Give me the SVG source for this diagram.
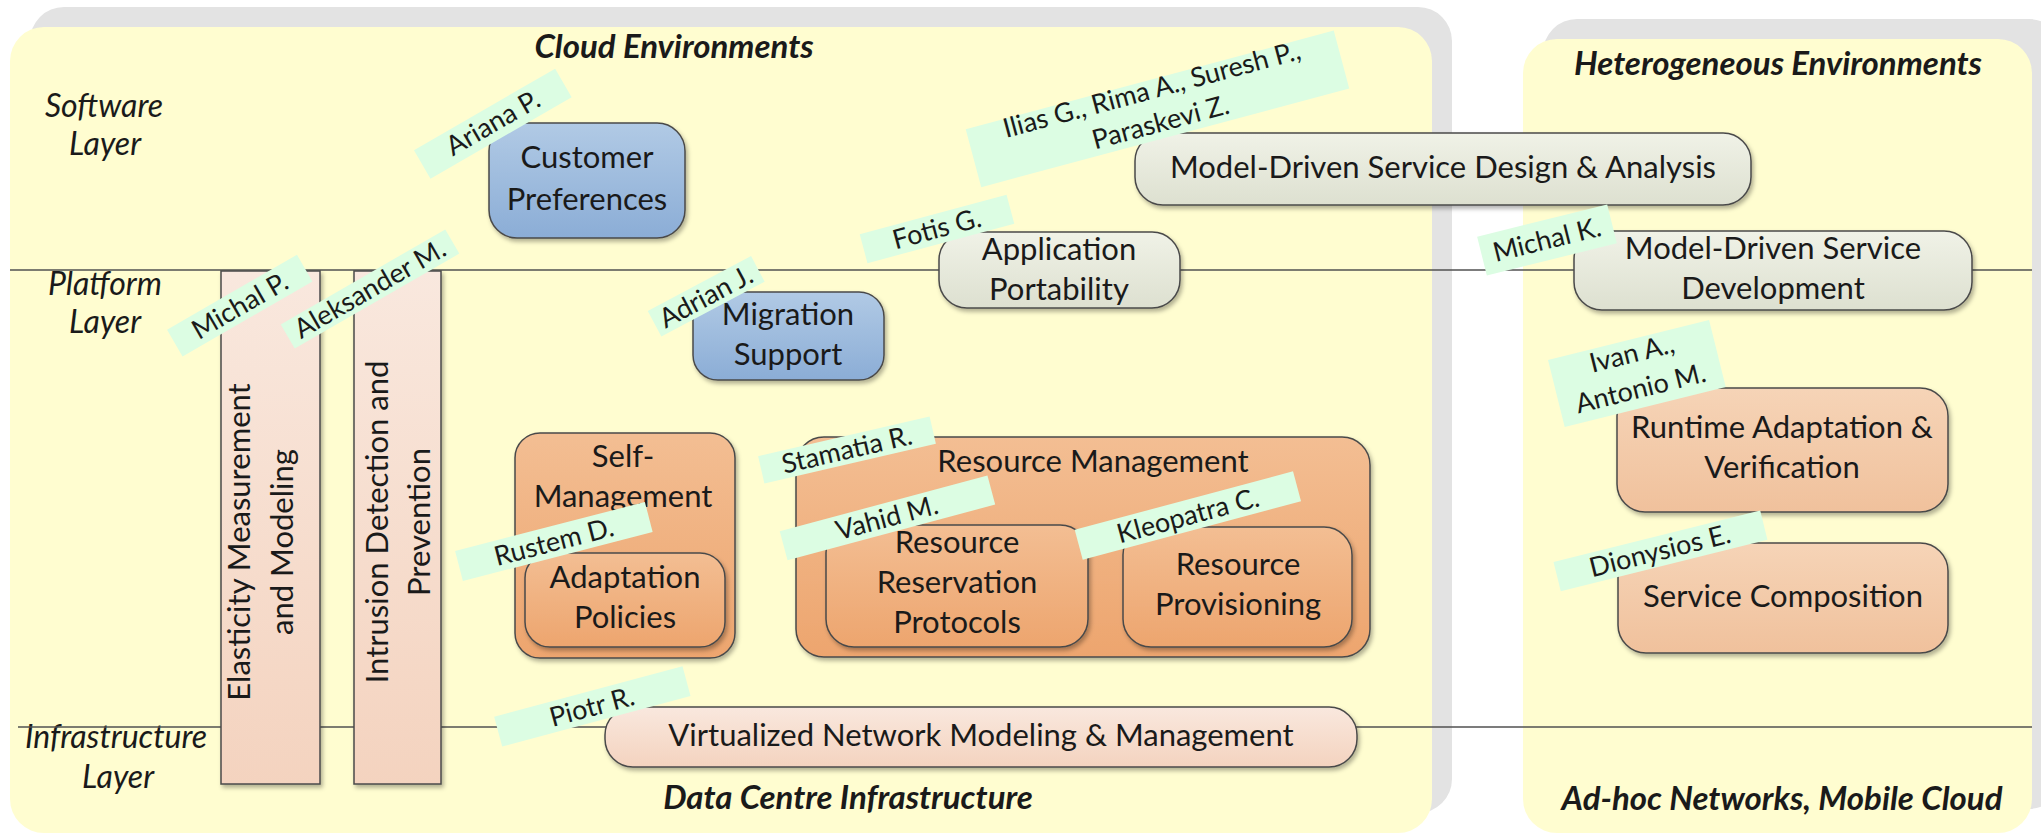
<svg xmlns="http://www.w3.org/2000/svg" width="2041" height="836" viewBox="0 0 2041 836">
<defs>
  <linearGradient id="gBlue" x1="0" y1="0" x2="0" y2="1"><stop offset="0" stop-color="#b1cae5"/><stop offset="1" stop-color="#8badd6"/></linearGradient>
  <linearGradient id="gGray" x1="0" y1="0" x2="0" y2="1"><stop offset="0" stop-color="#f0f2e7"/><stop offset="1" stop-color="#dde0d0"/></linearGradient>
  <linearGradient id="gOrange" x1="0" y1="0" x2="0" y2="1"><stop offset="0" stop-color="#f3be93"/><stop offset="1" stop-color="#eda56e"/></linearGradient>
  <linearGradient id="gLOrange" x1="0" y1="0" x2="0" y2="1"><stop offset="0" stop-color="#f6d4b7"/><stop offset="1" stop-color="#f0c19c"/></linearGradient>
  <linearGradient id="gPink" x1="0" y1="0" x2="0" y2="1"><stop offset="0" stop-color="#f9e8de"/><stop offset="1" stop-color="#f4d3bf"/></linearGradient>
  <filter id="sh" x="-10%" y="-10%" width="125%" height="130%"><feDropShadow dx="2" dy="3" stdDeviation="2" flood-color="#000" flood-opacity="0.3"/></filter>
  <style>
    .t{font-family:Lato,"Liberation Sans",sans-serif;font-size:31px;fill:#1a1a1a;text-anchor:middle}
    .lay{font-style:italic;font-size:32px}
    .ttl{font-style:italic;font-weight:bold;font-size:33px}
    .lt{font-size:27px}
    .node{stroke:#4a4a4a;stroke-width:1.5;filter:url(#sh)}
    .lbl{fill:#dcfde3}
    .ln{stroke:#505050;stroke-width:1.5;fill:none}
  </style>
</defs>
<rect x="0" y="0" width="2041" height="836" fill="#ffffff"/>
<g id="panels">
  <rect x="30" y="7" width="1422" height="806" rx="34" fill="#e3e3e3"/>
  <rect x="10" y="27" width="1422" height="806" rx="34" fill="#fffdd0"/>
  <rect x="1543" y="19" width="520" height="790" rx="34" fill="#e3e3e3"/>
  <rect x="1523" y="39" width="509" height="794" rx="34" fill="#fffdd0"/>
  <text class="t ttl" x="674" y="58">Cloud Environments</text>
  <text class="t ttl" x="1778" y="75">Heterogeneous Environments</text>
  <text class="t ttl" x="848" y="809">Data Centre Infrastructure</text>
  <text class="t ttl" x="1782" y="810">Ad-hoc Networks, Mobile Cloud</text>
  <text class="t lay" x="104" y="117">Software</text>
  <text class="t lay" x="105" y="155">Layer</text>
  <text class="t lay" x="105" y="295">Platform</text>
  <text class="t lay" x="105" y="333">Layer</text>
  <text class="t lay" x="116" y="748">Infrastructure</text>
  <text class="t lay" x="118" y="788">Layer</text>
</g>
<g id="connectors">
  <line class="ln" x1="10" y1="270" x2="2032" y2="270"/>
  <line class="ln" x1="18" y1="727" x2="2032" y2="727"/>
</g>
<g id="customer-preferences">
  <rect class="node" x="489" y="123" width="196" height="115" rx="28" fill="url(#gBlue)"/>
  <text class="t" x="587" y="168">Customer</text>
  <text class="t" x="587" y="210">Preferences</text>
</g>
<g id="migration-support">
  <rect class="node" x="693" y="292" width="191" height="88" rx="25" fill="url(#gBlue)"/>
  <text class="t" x="788" y="325">Migration</text>
  <text class="t" x="788" y="365">Support</text>
</g>
<g id="application-portability">
  <rect class="node" x="939" y="232" width="241" height="76" rx="28" fill="url(#gGray)"/>
  <text class="t" x="1059" y="260">Application</text>
  <text class="t" x="1059" y="300">Portability</text>
</g>
<g id="md-design-analysis">
  <rect class="node" x="1135" y="133" width="616" height="72" rx="28" fill="url(#gGray)"/>
  <text class="t" x="1443" y="178">Model-Driven Service Design &amp; Analysis</text>
</g>
<g id="md-development">
  <rect class="node" x="1574" y="231" width="398" height="79" rx="28" fill="url(#gGray)"/>
  <text class="t" x="1773" y="259">Model-Driven Service</text>
  <text class="t" x="1773" y="299">Development</text>
</g>
<g id="runtime-adaptation">
  <rect class="node" x="1617" y="388" width="331" height="124" rx="28" fill="url(#gLOrange)"/>
  <text class="t" x="1782" y="438">Runtime Adaptation &amp;</text>
  <text class="t" x="1782" y="478">Verification</text>
</g>
<g id="service-composition">
  <rect class="node" x="1618" y="543" width="330" height="110" rx="28" fill="url(#gLOrange)"/>
  <text class="t" x="1783" y="607">Service Composition</text>
</g>
<g id="elasticity">
  <rect class="node" x="221" y="271" width="99" height="513" fill="url(#gPink)"/>
  <text class="t" transform="translate(270,542) rotate(-90)"><tspan x="0" y="-20">Elasticity Measurement</tspan><tspan x="0" y="23">and Modeling</tspan></text>
</g>
<g id="intrusion">
  <rect class="node" x="354" y="271" width="87" height="513" fill="url(#gPink)"/>
  <text class="t" transform="translate(397,522) rotate(-90)"><tspan x="0" y="-9">Intrusion Detection and</tspan><tspan x="0" y="33">Prevention</tspan></text>
</g>
<g id="self-management">
  <rect class="node" x="515" y="433" width="220" height="225" rx="25" fill="url(#gOrange)"/>
  <text class="t" x="623" y="467">Self-</text>
  <text class="t" x="623" y="507">Management</text>
</g>
<g id="adaptation-policies">
  <rect class="node" x="525" y="553" width="200" height="94" rx="25" fill="url(#gOrange)"/>
  <text class="t" x="625" y="588">Adaptation</text>
  <text class="t" x="625" y="628">Policies</text>
</g>
<g id="resource-management">
  <rect class="node" x="796" y="437" width="574" height="220" rx="28" fill="url(#gOrange)"/>
  <text class="t" x="1093" y="472">Resource Management</text>
</g>
<g id="resource-reservation">
  <rect class="node" x="826" y="525" width="262" height="122" rx="28" fill="url(#gOrange)"/>
  <text class="t" x="957" y="553">Resource</text>
  <text class="t" x="957" y="593">Reservation</text>
  <text class="t" x="957" y="633">Protocols</text>
</g>
<g id="resource-provisioning">
  <rect class="node" x="1123" y="527" width="229" height="120" rx="28" fill="url(#gOrange)"/>
  <text class="t" x="1238" y="575">Resource</text>
  <text class="t" x="1238" y="615">Provisioning</text>
</g>
<g id="virtualized-network">
  <rect class="node" x="605" y="707" width="752" height="60" rx="28" fill="url(#gPink)"/>
  <text class="t" x="981" y="746">Virtualized Network Modeling &amp; Management</text>
</g>
<g id="label-ariana" transform="translate(493,123) rotate(-30)">
  <rect class="lbl" x="-82" y="-16" width="163" height="33"/>
  <text class="t lt" x="0" y="9">Ariana P.</text>
</g>
<g id="label-ilias" transform="translate(1157,109) rotate(-15)">
  <rect class="lbl" x="-190" y="-30" width="381" height="60"/>
  <text class="t lt" x="0" y="-11">Ilias G., Rima A., Suresh P.,</text>
  <text class="t lt" x="0" y="23">Paraskevi Z.</text>
</g>
<g id="label-fotis" transform="translate(937,229) rotate(-15)">
  <rect class="lbl" x="-76" y="-15" width="152" height="30"/>
  <text class="t lt" x="0" y="9">Fotis G.</text>
</g>
<g id="label-adrian" transform="translate(706,297) rotate(-28)">
  <rect class="lbl" x="-58" y="-15" width="117" height="29"/>
  <text class="t lt" x="0" y="9">Adrian J.</text>
</g>
<g id="label-michal-p" transform="translate(240,306) rotate(-30)">
  <rect class="lbl" x="-75" y="-16" width="150" height="31"/>
  <text class="t lt" x="0" y="9">Michal P.</text>
</g>
<g id="label-aleksander" transform="translate(370,289) rotate(-30)">
  <rect class="lbl" x="-95" y="-14" width="190" height="28"/>
  <text class="t lt" x="0" y="9">Aleksander M.</text>
</g>
<g id="label-rustem" transform="translate(554,542) rotate(-14.5)">
  <rect class="lbl" x="-98" y="-16" width="196" height="31"/>
  <text class="t lt" x="0" y="9">Rustem D.</text>
</g>
<g id="label-stamatia" transform="translate(847,450) rotate(-13)">
  <rect class="lbl" x="-88" y="-14" width="176" height="28"/>
  <text class="t lt" x="0" y="9">Stamatia R.</text>
</g>
<g id="label-vahid" transform="translate(887,518) rotate(-15)">
  <rect class="lbl" x="-107" y="-15" width="215" height="30"/>
  <text class="t lt" x="0" y="9">Vahid M.</text>
</g>
<g id="label-kleopatra" transform="translate(1188,516) rotate(-15)">
  <rect class="lbl" x="-113" y="-16" width="226" height="31"/>
  <text class="t lt" x="0" y="9">Kleopatra C.</text>
</g>
<g id="label-piotr" transform="translate(592,707) rotate(-15)">
  <rect class="lbl" x="-97" y="-16" width="195" height="31"/>
  <text class="t lt" x="0" y="9">Piotr R.</text>
</g>
<g id="label-michal-k" transform="translate(1547,240) rotate(-14)">
  <rect class="lbl" x="-67" y="-20" width="134" height="40"/>
  <text class="t lt" x="0" y="9">Michal K.</text>
</g>
<g id="label-ivan" transform="translate(1637,374) rotate(-14)">
  <rect class="lbl" x="-83" y="-35" width="166" height="69"/>
  <text class="t lt" x="0" y="-12">Ivan A.,</text>
  <text class="t lt" x="0" y="24">Antonio M.</text>
</g>
<g id="label-dionysios" transform="translate(1660,551) rotate(-14)">
  <rect class="lbl" x="-106" y="-15" width="213" height="30"/>
  <text class="t lt" x="0" y="9">Dionysios E.</text>
</g>
</svg>
